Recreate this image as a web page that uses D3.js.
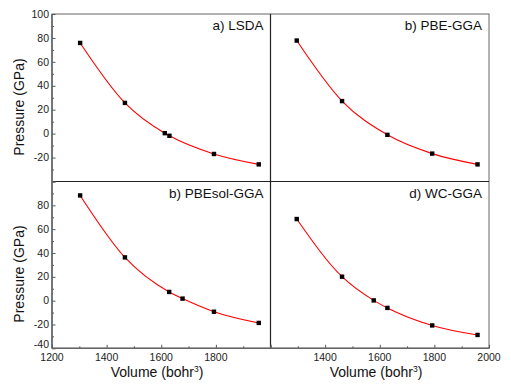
<!DOCTYPE html>
<html><head><meta charset="utf-8">
<script src="https://cdn.jsdelivr.net/npm/d3@7"></script>
<style>body{margin:0;background:#fff}svg{display:block;font-family:"Liberation Sans",Arial,sans-serif}</style>
</head><body><svg id="c" width="511" height="385"></svg>
<script>
const panelTitles = ["a) LSDA", "b) PBE-GGA", "b) PBEsol-GGA", "d) WC-GGA"];
const volLSDA = [1303, 1467, 1613, 1630, 1793, 1957];
const presLSDA = [75.8, 25.7, 0.4, -1.8, -17.0, -25.7];
const volPBE = [1296, 1462, 1628, 1792, 1958];
const presPBE = [77.8, 27.2, -1.0, -16.7, -25.7];
const volPBEsol = [1303, 1467, 1629, 1678, 1793, 1957];
const presPBEsol = [88.3, 36.3, 7.3, 1.7, -9.3, -18.7];
const volWC = [1296, 1462, 1578, 1628, 1792, 1958];
const presWC = [68.5, 20.1, 0.2, -6.1, -20.8, -28.8];
const yTicksTop = [100, 80, 60, 40, 20, 0, -20];
const yTicksBottom = [80, 60, 40, 20, 0, -20, -40];
const xTicksLeft = [1200, 1400, 1600, 1800];
const xTicksRight = [1400, 1600, 1800, 2000];
const xLabel = "Volume (bohr", yLabel = "Pressure (GPa)";

const svg = d3.select("#c");
const L = 52, M = 270.5, R = 489, T = 14, H = 181.5, B = 348.3;
const xs = [d3.scaleLinear().domain([1200, 2000]).range([L, M]),
            d3.scaleLinear().domain([1200, 2000]).range([M, R])];
const ys = [d3.scaleLinear().domain([-40, 100]).range([H, T]),
            d3.scaleLinear().domain([-40, 100]).range([B, H])];

const panels = [
  {v: volLSDA, p: presLSDA, c: 0, r: 0},
  {v: volPBE, p: presPBE, c: 1, r: 0},
  {v: volPBEsol, p: presPBEsol, c: 0, r: 1},
  {v: volWC, p: presWC, c: 1, r: 1}
];

// frame
svg.append("rect").attr("x", L).attr("y", T).attr("width", R - L).attr("height", B - T)
  .attr("fill", "none").attr("stroke", "#666").attr("stroke-width", 1);
svg.append("line").attr("x1", L).attr("x2", R).attr("y1", H).attr("y2", H).attr("stroke", "#222").attr("stroke-width", 1.2);
svg.append("line").attr("x1", M).attr("x2", M).attr("y1", T).attr("y2", B).attr("stroke", "#222").attr("stroke-width", 1.2);

panels.forEach((pn, i) => {
  const x = xs[pn.c], y = ys[pn.r];
  const pts = pn.v.map((v, j) => [v, pn.p[j]]);
  const g = svg.append("g");
  g.append("path").datum(pts)
    .attr("d", d3.line().x(d => x(d[0])).y(d => y(d[1])).curve(d3.curveMonotoneX))
    .attr("fill", "none").attr("stroke", "#ff0000").attr("stroke-width", 1.1);
  g.selectAll("rect.m").data(pts).join("rect")
    .attr("x", d => x(d[0]) - 2.2).attr("y", d => y(d[1]) - 2.2)
    .attr("width", 4.4).attr("height", 4.4).attr("fill", "#000");
  g.append("text").attr("x", x.range()[1] - 7).attr("y", y.range()[1] + 16)
    .attr("text-anchor", "end").attr("font-size", 13.5).attr("fill", "#111").text(panelTitles[i]);
});

// y axes (left column)
[[ys[0], yTicksTop], [ys[1], yTicksBottom]].forEach(([y, tv]) => {
  const ax = svg.append("g").attr("transform", `translate(${L},0)`)
    .call(d3.axisRight(y).tickValues(d3.range(-40, 101, 10)).tickSize(3.5).tickFormat(""));
  ax.select(".domain").remove();
  ax.selectAll(".tick line").attr("stroke", "#555").attr("x2", d => d % 20 === 0 ? 3.5 : 2);
  svg.append("g").selectAll("text").data(tv).join("text")
    .attr("x", L - 3).attr("y", d => y(d) - (d === -40 ? 3.5 : 0)).attr("dy", "0.35em").attr("text-anchor", "end")
    .attr("font-size", 10.5).attr("fill", "#222").text(d => d);
});
svg.append("line").attr("x1", L).attr("x2", L).attr("y1", T).attr("y2", B).attr("stroke", "#666").attr("stroke-width", 1.6);

// x axes (bottom row)
[[xs[0], xTicksLeft], [xs[1], xTicksRight]].forEach(([x, tv]) => {
  const ax = svg.append("g").attr("transform", `translate(0,${B})`)
    .call(d3.axisTop(x).tickValues(d3.range(1200, 2001, 100)).tickSize(3.5).tickFormat(""));
  ax.select(".domain").remove();
  ax.selectAll(".tick line").attr("stroke", "#555").attr("y2", d => d % 200 === 0 ? -3.5 : -2);
  svg.append("g").selectAll("text").data(tv).join("text")
    .attr("x", d => x(d)).attr("y", B + 12.3).attr("text-anchor", "middle")
    .attr("font-size", 10.5).attr("fill", "#222").text(d => d);
});
svg.append("line").attr("x1", L).attr("x2", R).attr("y1", B).attr("y2", B).attr("stroke", "#666").attr("stroke-width", 1.6);

// axis titles
[157, 376].forEach(cx => {
  const t = svg.append("text").attr("x", cx).attr("y", 376.5).attr("text-anchor", "middle")
    .attr("font-size", 14).attr("fill", "#111");
  t.append("tspan").text(xLabel);
  t.append("tspan").attr("font-size", 8.5).attr("dy", -5).text("3");
  t.append("tspan").attr("dy", 5).text(")");
});
[107, 274].forEach(cy => {
  svg.append("text").attr("transform", `translate(24,${cy}) rotate(-90)`).attr("text-anchor", "middle")
    .attr("font-size", 14).attr("fill", "#111").text(yLabel);
});
</script></body></html>
